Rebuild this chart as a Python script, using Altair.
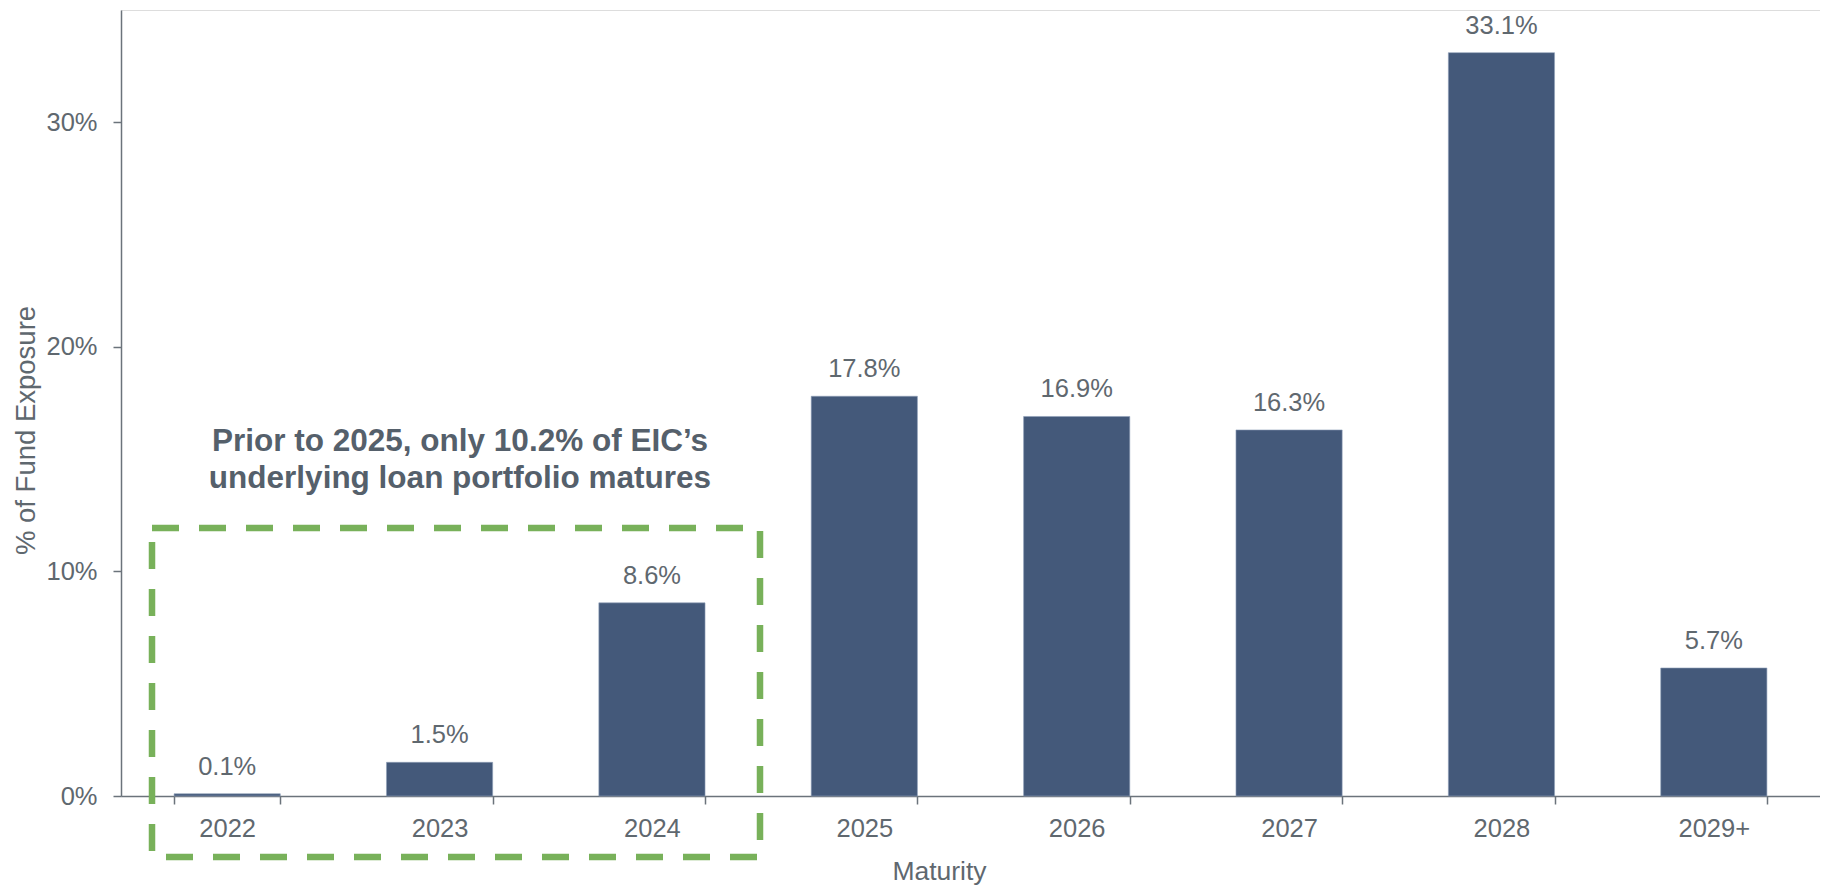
import altair as alt
import pandas as pd

# ---- data ----
maturity = ["2022", "2023", "2024", "2025", "2026", "2027", "2028", "2029+"]
exposure = [0.1, 1.5, 8.6, 17.8, 16.9, 16.3, 33.1, 5.7]
y_ticks = [0, 10, 20, 30]
note_lines = ["Prior to 2025, only 10.2% of EIC\u2019s", "underlying loan portfolio matures"]

df = pd.DataFrame({"maturity": maturity, "exposure": exposure})

FONT = "Liberation Sans"
BAR = "#44597A"
TXT = "#5F686F"
AXIS = "#6B737B"
GREEN = "#78B15A"
NOTE = "#55606B"

x_enc = alt.X(
    "maturity:N",
    sort=maturity,
    scale=alt.Scale(domain=maturity, paddingInner=0.5, paddingOuter=0.25),
    axis=alt.Axis(
        title="Maturity",
        labelAngle=0,
        labelFont=FONT,
        labelFontSize=25.5,
        labelColor=TXT,
        labelPadding=12,
        tickBand="extent",
        tickSize=8,
        tickColor=AXIS,
        tickWidth=1.5,
        domainColor=AXIS,
        domainWidth=1.5,
        titleFont=FONT,
        titleFontSize=26.5,
        titleFontWeight="normal",
        titleColor=TXT,
        titleX=818,
        titleY=83,
        titleBaseline="alphabetic",
        titleAlign="center",
    ),
)

y_scale = alt.Scale(domain=[0, 35], nice=False, zero=True)

bars = alt.Chart(df).mark_bar(color=BAR, stroke="#8F9FB8", strokeWidth=0.6).encode(
    x=x_enc,
    y=alt.Y(
        "exposure:Q",
        scale=y_scale,
        axis=alt.Axis(
            title="% of Fund Exposure",
            values=y_ticks,
            labelExpr="datum.value + '%'",
            grid=False,
            labelFont=FONT,
            labelFontSize=25.5,
            labelColor=TXT,
            labelPadding=16,
            tickSize=8,
            tickColor=AXIS,
            tickWidth=1.5,
            domainColor=AXIS,
            domainWidth=1.5,
            titleFont=FONT,
            titleFontSize=27.5,
            titleFontWeight="normal",
            titleColor=TXT,
            titleX=-87,
            titleY=420,
            titleBaseline="alphabetic",
            titleAlign="center",
        ),
    ),
)

labels = alt.Chart(df).transform_calculate(
    lbl="format(datum.exposure, '.1f') + '%'"
).mark_text(
    font=FONT, fontSize=25.5, color=TXT, baseline="alphabetic", align="center", dy=-19
).encode(
    x=alt.X("maturity:N", sort=maturity),
    y=alt.Y("exposure:Q"),
    text="lbl:N",
)

box = alt.Chart(df).mark_rect(
    fill=None, fillOpacity=0, stroke=GREEN, strokeWidth=6.5, strokeDash=[27, 20]
).encode(
    x=alt.value(31),
    x2=alt.value(639),
    y=alt.datum(11.93),
    y2=alt.datum(-2.72),
).transform_filter("datum.maturity == '2022'")

note = alt.Chart(df).mark_text(
    font=FONT, fontSize=31.5, fontWeight="bold", color=NOTE, align="center",
    baseline="alphabetic", lineHeight=37
).encode(
    x=alt.value(339),
    y=alt.datum(15.36),
    text=alt.value(note_lines),
).transform_filter("datum.maturity == '2022'")

chart = alt.layer(bars, labels, box, note).properties(
    width=1699,
    height=786,
    autosize=alt.AutoSizeParams(type="none"),
    padding={"left": 113, "top": 2, "right": 0, "bottom": 91},
).configure_view(stroke=None).configure(background="white")

chart.save("out.html", embed_options={"renderer": "svg", "actions": False})
